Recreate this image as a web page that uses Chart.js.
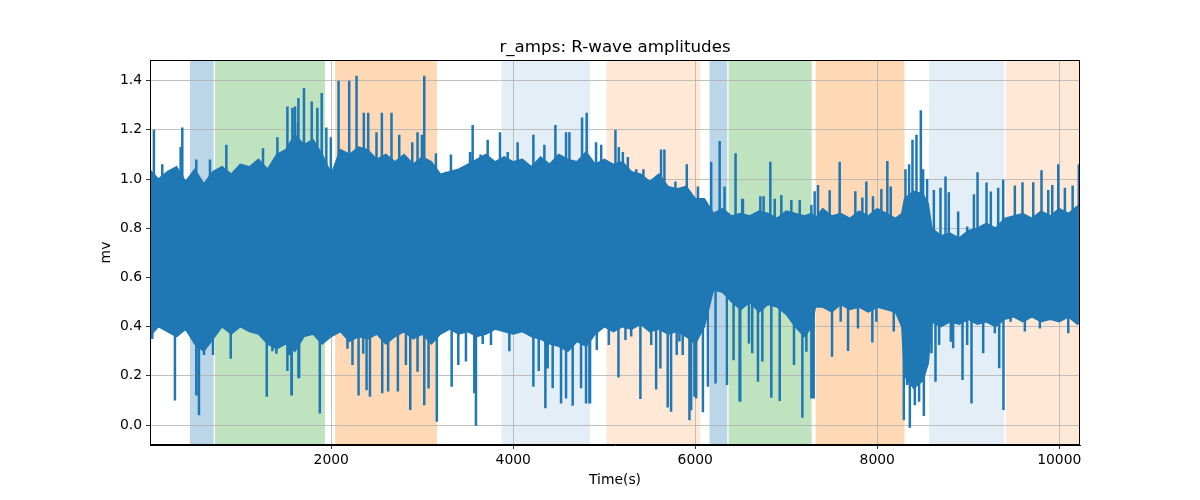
<!DOCTYPE html>
<html>
<head>
<meta charset="utf-8">
<title>r_amps: R-wave amplitudes</title>
<script src="https://cdn.jsdelivr.net/npm/chart.js@4.4.1/dist/chart.umd.min.js"></script>
<style>
  body { margin: 0; background: #fff; }
  #wrap { width: 1200px; height: 500px; }
</style>
</head>
<body>
<div id="wrap"><canvas id="ampChart" width="1200" height="500"></canvas></div>
<script>
// Time axis ticks (s) and mv ticks
const xTicks = [2000, 4000, 6000, 8000, 10000];
const yTicks = [0.0, 0.2, 0.4, 0.6, 0.8, 1.0, 1.2, 1.4];

// shaded phases (s)
const spanStarts = [448, 723, 2043, 3872, 5024, 6157, 6366, 7323, 8567, 9414];
const spanEnds   = [708, 1930, 3162, 4845, 6055, 6352, 7279, 8299, 9395, 10230];
const spanFills  = ['rgba(31,119,180,0.3)', 'rgba(44,160,44,0.3)', 'rgba(255,127,14,0.3)',
                    'rgba(31,119,180,0.12)', 'rgba(255,127,14,0.17)',
                    'rgba(31,119,180,0.3)', 'rgba(44,160,44,0.3)', 'rgba(255,127,14,0.3)',
                    'rgba(31,119,180,0.12)', 'rgba(255,127,14,0.17)'];

// dense core of the amplitude trace: ragged upper / lower edge
const bandT  = [0, 100, 200, 300, 400, 500, 600, 700, 800, 900, 1000, 1100, 1200, 1300, 1400, 1500,
                1600, 1700, 1800, 1900, 2000, 2100, 2200, 2300, 2400, 2500, 2600, 2700, 2800, 2900, 3000,
                3100, 3200, 3300, 3400, 3500, 3600, 3700, 3800, 3900, 4000, 4100, 4200, 4300, 4400, 4500,
                4600, 4700, 4800, 4900, 5000, 5100, 5200, 5300, 5400, 5500, 5600, 5700, 5800, 5900, 6000,
                6100, 6200, 6300, 6400, 6500, 6600, 6700, 6800, 6900, 7000, 7100, 7200, 7280, 7320, 7400,
                7500, 7600, 7700, 7800, 7900, 8000, 8100, 8200, 8270, 8300, 8400, 8500, 8560, 8600, 8700,
                8800, 8900, 9000, 9100, 9200, 9300, 9400, 9500, 9600, 9700, 9800, 9900, 10000, 10100, 10200,
                10228];
const bandHi = [1.04, 1.00, 1.03, 1.05, 0.99, 1.04, 0.98, 1.03, 1.05, 1.02, 1.06, 1.05, 1.08, 1.04, 1.10, 1.12,
                1.18, 1.14, 1.16, 1.10, 1.02, 1.12, 1.10, 1.13, 1.12, 1.08, 1.10, 1.07, 1.10, 1.06, 1.09,
                1.07, 1.02, 1.03, 1.04, 1.06, 1.08, 1.10, 1.07, 1.09, 1.07, 1.08, 1.05, 1.09, 1.06, 1.10,
                1.08, 1.07, 1.11, 1.06, 1.08, 1.06, 1.07, 1.03, 1.02, 0.99, 1.02, 0.97, 0.96, 0.97, 0.92,
                0.92, 0.86, 0.88, 0.85, 0.86, 0.85, 0.87, 0.86, 0.84, 0.87, 0.86, 0.85, 0.86, 0.84, 0.88,
                0.85, 0.86, 0.84, 0.87, 0.85, 0.88, 0.86, 0.84, 0.86, 0.92, 0.95, 0.94, 0.90, 0.80, 0.77,
                0.78, 0.76, 0.79, 0.80, 0.82, 0.80, 0.84, 0.85, 0.86, 0.84, 0.87, 0.85, 0.88, 0.86, 0.89,
                0.87];
const bandLo = [0.36, 0.40, 0.38, 0.36, 0.39, 0.33, 0.30, 0.35, 0.40, 0.37, 0.40, 0.38, 0.37, 0.33, 0.31, 0.33,
                0.30, 0.36, 0.37, 0.33, 0.36, 0.38, 0.34, 0.36, 0.35, 0.37, 0.33, 0.36, 0.38, 0.35, 0.37,
                0.33, 0.37, 0.39, 0.37, 0.38, 0.36, 0.37, 0.39, 0.38, 0.37, 0.38, 0.36, 0.35, 0.33, 0.32,
                0.30, 0.34, 0.32, 0.37, 0.40, 0.38, 0.40, 0.39, 0.41, 0.38, 0.39, 0.37, 0.38, 0.36, 0.33,
                0.40, 0.55, 0.54, 0.50, 0.47, 0.50, 0.46, 0.49, 0.48, 0.45, 0.40, 0.36, 0.40, 0.48, 0.48,
                0.46, 0.49, 0.47, 0.48, 0.46, 0.48, 0.47, 0.46, 0.40, 0.20, 0.15, 0.18, 0.25, 0.42, 0.40,
                0.42, 0.41, 0.43, 0.41, 0.42, 0.40, 0.43, 0.44, 0.42, 0.44, 0.42, 0.43, 0.42, 0.44, 0.41,
                0.42];

// upward spikes (time, mv)
const upT = [51, 143, 345, 363, 517, 667, 847, 1005, 1250, 1408, 1518, 1584, 1602, 1635,
             1573, 1639, 1700, 1785, 1847, 1895, 1946, 1995, 2080, 2197, 2278, 2314, 2358, 2406, 2497,
             2556, 2662, 2747, 2890, 2948, 2996, 3022, 3150, 3260,
             3315, 3525, 3554, 3641, 3719, 3854, 3939, 4048, 4221, 4342, 4463, 4580, 4617, 4756, 4807, 4910,
             4966, 5123, 5160, 5204, 5259, 5351, 5430, 5508, 5624, 5661, 5717, 5782, 5907, 6029, 6175,
             6268, 6322, 6443, 6516,
             6524, 6715, 6751, 6825, 6873, 6946, 7056, 7148, 7276, 7312, 7349, 7477, 7587, 7660, 7759,
             7836, 7880, 7953, 8045, 8111, 8148,
             8310, 8350, 8387, 8431, 8479, 8504, 8548, 8622, 8695, 8750, 8786, 8889, 8988, 9062, 9102,
             9201, 9248, 9329, 9384, 9450, 9512, 9596, 9714, 9805, 9879, 9923, 9989, 10062, 10147, 10215];
const upV = [1.20, 1.06, 1.13, 1.21, 1.08, 1.08, 1.14, 1.06, 1.125, 1.17, 1.295, 1.18, 1.295, 1.23,
             1.29, 1.33, 1.37, 1.315, 1.29, 1.35, 1.21, 1.17, 1.40, 1.40, 1.42, 1.125, 1.27, 1.27, 1.19,
             1.27, 1.27, 1.18, 1.15, 1.19, 1.18, 1.42, 1.105, 1.03,
             1.10, 1.11, 1.22, 1.10, 1.16, 1.19, 1.11, 1.15, 1.18, 1.14, 1.22, 1.19, 1.19, 1.25, 1.27, 1.15,
             1.14, 1.20, 1.13, 1.11, 1.09, 1.04, 1.04, 0.96, 1.12, 1.12, 0.955, 0.99, 1.06, 0.97, 1.07,
             1.155, 0.97, 1.105, 0.92,
             0.92, 0.93, 0.93, 1.07, 0.92, 0.935, 0.915, 0.915, 0.895, 0.95, 0.976, 0.955, 1.07, 0.84, 0.95,
             0.925, 0.99, 0.93, 0.96, 1.073, 0.97,
             1.04, 1.06, 1.16, 1.18, 1.28, 1.04, 1.0, 0.956, 0.965, 1.01, 0.946, 0.868, 0.807, 0.938, 1.028,
             0.986, 0.949, 0.965, 0.997, 0.82, 0.974, 0.987, 0.987, 1.036, 0.956, 0.976, 1.06, 0.965, 0.974, 1.06];

// downward spikes (time, mv)
const dnT = [33, 282, 517, 546, 601, 700, 895, 1291, 1353, 1397, 1518, 1562, 1639,
             1537, 1566, 1647, 1874, 2178, 2233, 2300, 2351, 2388, 2425, 2560, 2625, 2732, 2820, 2868, 2948,
             3022, 3069, 3160,
             3323, 3396, 3480, 3572, 3590, 3664, 3755, 3957, 4221, 4280, 4353, 4378, 4433, 4525, 4580, 4653,
             4745, 4800, 4844,
             4837, 4918, 5050, 5156, 5233, 5296, 5397, 5516, 5570, 5617, 5697, 5734, 5796, 5826, 5862, 5936,
             5955, 5991, 6010, 6084, 6139, 6223, 6348, 6421, 6494, 6590,
             6487, 6626, 6689, 6737, 6836, 6928, 7085, 7177, 7221, 7276, 7301, 7503, 7598, 7679, 7788, 7946,
             7990, 8181,
             8292, 8328, 8358, 8413, 8460, 8512, 8596, 8640, 8680, 8808, 8834, 8937, 8988, 9036, 9164, 9292,
             9340, 9387, 9465, 9622, 9787, 10099];
const dnV = [0.35, 0.10, 0.12, 0.04, 0.285, 0.285, 0.27, 0.115, 0.30, 0.29, 0.22, 0.12, 0.19,
             0.285, 0.12, 0.19, 0.047, 0.31, 0.244, 0.12, 0.29, 0.142, 0.115, 0.129, 0.136, 0.136, 0.244, 0.061, 0.217,
             0.081, 0.149, 0.014,
             0.156, 0.244, 0.258, 0.129, -0.003, 0.33, 0.325, 0.30, 0.156, 0.22, 0.068, 0.23, 0.15, 0.088, 0.108, 0.079,
             0.15, 0.088, 0.088,
             0.088, 0.305, 0.325, 0.193, 0.346, 0.36, 0.106, 0.325, 0.145, 0.23, 0.071, 0.054, 0.285, 0.34, 0.285, 0.02,
             0.06, 0.115, 0.108, 0.052, 0.156, 0.169, 0.163, 0.264, 0.095, 0.332,
             0.095, 0.292, 0.176, 0.258, 0.111, 0.098, 0.244, 0.03, 0.298, 0.108, 0.108, 0.278, 0.42, 0.301, 0.393, 0.336,
             0.42, 0.38,
             0.02, 0.163, -0.011, 0.081, 0.095, 0.037, 0.292, 0.176, 0.325, 0.339, 0.312, 0.183, 0.325, 0.088, 0.292, 0.373,
             0.231, 0.061, 0.42, 0.38, 0.393, 0.373];

const lineColor = '#1f77b4';

// spikes as short vertical strokes separated by gaps
function spikePoints(ts, vs) {
    const pts = [];
    ts.forEach(function(t, i) {
        pts.push({ x: t, y: 0.7 }, { x: t, y: vs[i] }, { x: t, y: null });
    });
    return pts;
}

const spanPlugin = {
    id: 'spans',
    beforeDraw(chart) {
        const ctx = chart.ctx, area = chart.chartArea, xs = chart.scales.x;
        ctx.save();
        ctx.beginPath();
        ctx.rect(area.left, area.top, area.right - area.left, area.bottom - area.top);
        ctx.clip();
        spanStarts.forEach(function(s, i) {
            const x0 = xs.getPixelForValue(s);
            const x1 = xs.getPixelForValue(spanEnds[i]);
            ctx.fillStyle = spanFills[i];
            ctx.fillRect(x0, area.top, x1 - x0, area.bottom - area.top);
        });
        ctx.restore();
    }
};

const framePlugin = {
    id: 'frame',
    afterDraw(chart) {
        const ctx = chart.ctx, a = chart.chartArea;
        ctx.save();
        ctx.strokeStyle = '#000';
        ctx.lineWidth = 1;
        ctx.strokeRect(Math.round(a.left) + 0.5, Math.round(a.top) + 0.5,
                       Math.round(a.right - a.left) - 1, Math.round(a.bottom - a.top) - 1);
        ctx.fillStyle = '#000';
        ctx.textAlign = 'center';
        ctx.textBaseline = 'alphabetic';
        ctx.font = '16.7px "DejaVu Sans"';
        ctx.fillText('r_amps: R-wave amplitudes', (a.left + a.right) / 2, 52);
        ctx.font = '13.9px "DejaVu Sans"';
        ctx.textBaseline = 'top';
        ctx.fillText('Time(s)', (a.left + a.right) / 2, 473);
        ctx.translate(106, (a.top + a.bottom) / 2);
        ctx.rotate(-Math.PI / 2);
        ctx.textBaseline = 'middle';
        ctx.fillText('mv', 0, 0);
        ctx.restore();
    }
};

const ctx = document.getElementById('ampChart').getContext('2d');
const ampChart = new Chart(ctx, {
    type: 'line',
    data: {
        datasets: [
            {
                data: bandT.map((t, i) => ({ x: t, y: bandHi[i] })),
                borderColor: lineColor,
                backgroundColor: lineColor,
                borderWidth: 1.5,
                fill: '+1',
                pointRadius: 0,
                tension: 0
            },
            {
                data: bandT.map((t, i) => ({ x: t, y: bandLo[i] })),
                borderColor: lineColor,
                borderWidth: 1.5,
                fill: false,
                pointRadius: 0,
                tension: 0
            },
            {
                data: spikePoints(upT, upV),
                borderColor: lineColor,
                borderWidth: 2.5,
                fill: false,
                pointRadius: 0,
                spanGaps: false
            },
            {
                data: spikePoints(dnT, dnV),
                borderColor: lineColor,
                borderWidth: 2.5,
                fill: false,
                pointRadius: 0,
                spanGaps: false
            }
        ]
    },
    options: {
        responsive: false,
        animation: false,
        events: [],
        layout: { padding: { top: 60, right: 120, left: 0, bottom: 0 } },
        plugins: {
            legend: { display: false },
            tooltip: { enabled: false },
            title: { display: false }
        },
        scales: {
            x: {
                type: 'linear',
                min: 8,
                max: 10228,
                afterFit(scale) { scale.height = 55; },
                afterBuildTicks(scale) { scale.ticks = xTicks.map(v => ({ value: v })); },
                grid: { color: '#b0b0b0', lineWidth: 0.8, tickColor: '#000', tickLength: 4 },
                border: { color: '#000', width: 1 },
                ticks: {
                    color: '#000',
                    padding: 3,
                    maxRotation: 0,
                    font: { family: 'DejaVu Sans', size: 13.9 },
                    callback: v => String(v)
                }
            },
            y: {
                type: 'linear',
                min: -0.081,
                max: 1.484,
                afterFit(scale) { scale.width = 150; },
                afterBuildTicks(scale) { scale.ticks = yTicks.map(v => ({ value: v })); },
                grid: { color: '#b0b0b0', lineWidth: 0.8, tickColor: '#000', tickLength: 4 },
                border: { color: '#000', width: 1 },
                ticks: {
                    color: '#000',
                    padding: 4,
                    font: { family: 'DejaVu Sans', size: 13.9 },
                    callback: v => v.toFixed(1)
                }
            }
        }
    },
    plugins: [spanPlugin, framePlugin]
});
</script>
</body>
</html>
